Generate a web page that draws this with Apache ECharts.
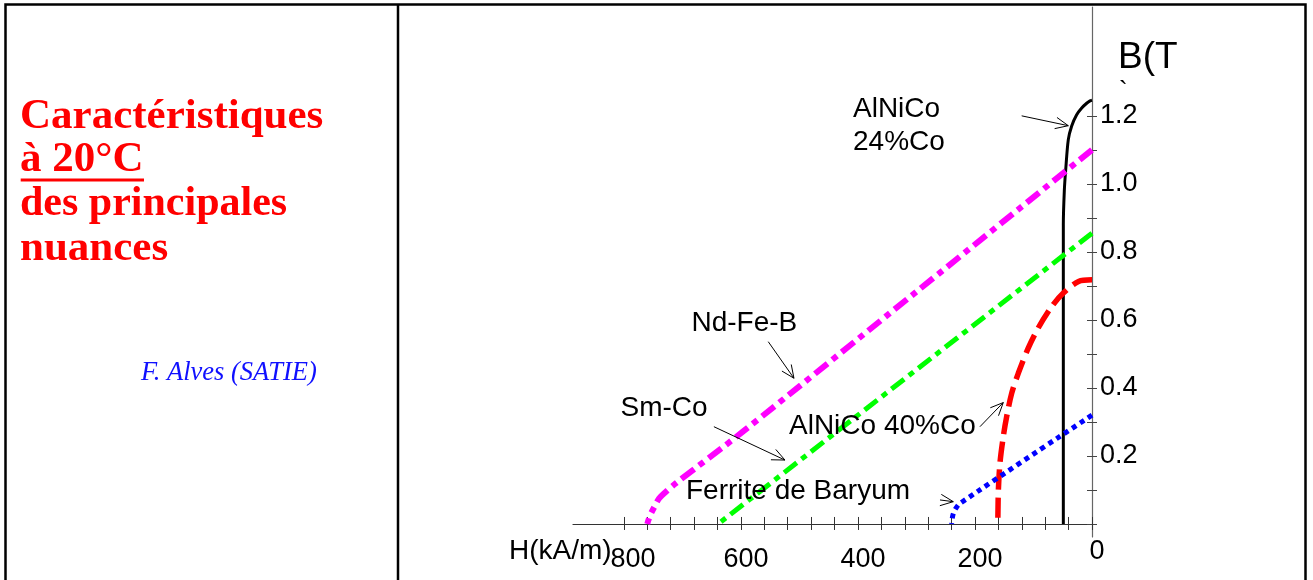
<!DOCTYPE html>
<html>
<head>
<meta charset="utf-8">
<script src="https://cdn.jsdelivr.net/npm/echarts@6/dist/echarts.min.js"></script>
<style>
html,body{margin:0;padding:0;background:#fff;}
#c{width:1313px;height:580px;}
</style>
</head>
<body>
<div id="c"></div>
<script>
// ---- data (H in kA/m, B in T) ----
const xTickValues  = [0,40,80,120,160,200,240,280,320,360,400,440,480,520,560,600,640,680,720,760,800];
const xLabelValues = [0,200,400,600,800];
const yTickValues  = [0,0.1,0.2,0.3,0.4,0.5,0.6,0.7,0.8,0.9,1.0,1.1,1.2];
const yLabelValues = [0.2,0.4,0.6,0.8,1.0,1.2];

const alnico24 = [[49,0],[49,0.88],[47.3,0.98],[45,1.04],[40.5,1.13],[34.7,1.17],[26.2,1.203],[17.6,1.223],[9.1,1.237],[3.4,1.244],[0,1.246]];
const ndfeb    = [[0,1.1],[300,0.683],[600,0.267],[711,0.12],[730,0.092],[740,0.075],[748,0.05],[754,0.03],[758,0.012],[760,0]];
const smco     = [[0,0.855],[320,0.427],[639,0]];
const alnico40 = [[0,0.718],[23,0.713],[49,0.679],[69,0.639],[92,0.576],[109,0.517],[126,0.443],[137.3,0.384],[145.8,0.316],[151.6,0.257],[157.3,0.179],[160,0.1],[160.6,0.05],[161,0]];
const ferrite  = [[0,0.32],[226,0.06],[233,0.045],[237,0.031],[239,0.015],[240,0]];

// annotation arrows (from -> to) in data coordinates
const arrowFrom = [[120.2,1.2],[553.3,0.536],[646.2,0.286],[191.5,0.286],[259.8,0.0706]];
const arrowTo   = [[40.5,1.171],[509.4,0.4285],[524.8,0.188],[151.6,0.357],[237.1,0.0656]];

const SANS = '"Liberation Sans", Arial, sans-serif';
const SERIF = '"Liberation Serif", "Times New Roman", serif';

const chart = echarts.init(document.getElementById('c'), null, {renderer:'canvas'});

const xLabelCfg = {
  customValues: xLabelValues,
  margin: 23,
  verticalAlign: 'middle',
  formatter: function (v) { return v === 0 ? '{z|0}' : (v === 800 ? '{b|800}' : '{a|' + v + '}'); },
  rich: {
    a: {fontSize: 27, fontFamily: SANS, color: '#000', padding: [0,0,0,10]},
    b: {fontSize: 27, fontFamily: SANS, color: '#000', padding: [0,0,0,18]},
    z: {fontSize: 27, fontFamily: SANS, color: '#000', padding: [0,0,17,10]}
  }
};

const option = {
  animation: false,
  backgroundColor: '#fff',
  grid: {left: 573, right: 221, top: 7, bottom: 43.1, containLabel: false},
  xAxis: [{
    type: 'value', min: 0, max: 887, inverse: true, position: 'bottom',
    axisLine: {show: true, onZero: true, lineStyle: {color: '#333', width: 1.2}},
    axisTick: {show: true, length: 6, inside: false, customValues: xTickValues, lineStyle: {color: '#333', width: 1}},
    axisLabel: xLabelCfg,
    splitLine: {show: false}
  }, {
    type: 'value', min: 0, max: 887, inverse: true, position: 'bottom',
    axisLine: {show: false, onZero: true},
    axisTick: {show: true, length: 7, inside: true, customValues: xTickValues, lineStyle: {color: '#333', width: 1}},
    axisLabel: {show: false},
    splitLine: {show: false}
  }],
  yAxis: [{
    type: 'value', min: -0.038, max: 1.52, position: 'right',
    axisLine: {show: true, onZero: false, lineStyle: {color: '#666', width: 1.2}},
    axisTick: {show: true, length: 5, inside: false, customValues: yTickValues, lineStyle: {color: '#444', width: 1}},
    axisLabel: {customValues: yLabelValues, margin: 8, fontSize: 27, fontFamily: SANS, color: '#000',
      formatter: function (v) { return v.toFixed(1); }},
    splitLine: {show: false}
  }, {
    type: 'value', min: -0.038, max: 1.52, position: 'right',
    axisLine: {show: false, onZero: false},
    axisTick: {show: true, length: 5, inside: true, customValues: yTickValues, lineStyle: {color: '#444', width: 1}},
    axisLabel: {show: false},
    splitLine: {show: false}
  }],
  series: [
    {name: 'AlNiCo 24%Co', type: 'line', data: alnico24, showSymbol: false, smooth: 0.3,
      lineStyle: {color: '#000', width: 3}},
    {name: 'Nd-Fe-B', type: 'line', data: ndfeb, showSymbol: false, smooth: 0.3,
      lineStyle: {color: '#FF00FF', width: 6, type: [16, 6, 6, 6]}},
    {name: 'Sm-Co', type: 'line', data: smco, showSymbol: false,
      lineStyle: {color: '#00FF00', width: 5, type: [16, 6, 6, 6]}},
    {name: 'AlNiCo 40%Co', type: 'line', data: alnico40, showSymbol: false, smooth: 0.3,
      lineStyle: {color: '#FF0000', width: 5.5, type: [20, 8]}},
    {name: 'Ferrite de Baryum', type: 'line', data: ferrite, showSymbol: false, smooth: 0.3,
      lineStyle: {color: '#0000FF', width: 5, type: [5, 4.5]}}
  ]
};
chart.setOption(option);

function txt(text, x, y, size, family, color, extra) {
  return {
    type: 'text', x: x, y: y, silent: true, z: 10,
    style: Object.assign({text: text, fontSize: size, fontFamily: family, fill: color, align: 'left', verticalAlign: 'middle'}, extra || {})
  };
}

const g = [];
// frame
g.push({type: 'rect', silent: true, z: 5, shape: {x: 5.5, y: 4.5, width: 1300, height: 620},
  style: {fill: null, stroke: '#000', lineWidth: 2.5}});
g.push({type: 'line', silent: true, z: 5, shape: {x1: 398, y1: 4.5, x2: 398, y2: 600},
  style: {stroke: '#000', lineWidth: 2.5}});
// left panel
g.push(txt('Caractéristiques', 20, 117, 43, SERIF, '#FF0000', {fontWeight: 'bold'}));
g.push(txt('à 20°C', 20, 160, 43, SERIF, '#FF0000', {fontWeight: 'bold'}));
g.push({type: 'rect', silent: true, z: 10, shape: {x: 20.7, y: 178.5, width: 123.3, height: 3}, style: {fill: '#FF0000'}});
g.push(txt('des principales', 20, 204.5, 42, SERIF, '#FF0000', {fontWeight: 'bold'}));
g.push(txt('nuances', 20, 248.5, 43, SERIF, '#FF0000', {fontWeight: 'bold'}));
g.push(txt('F. Alves (SATIE)', 141, 373, 26.5, SERIF, '#1010FF', {fontStyle: 'italic'}));
// axis titles
g.push(txt('B(T', 1118, 58, 37, SANS, '#000'));
g.push(txt('`', 1119, 92, 26, SANS, '#000'));
g.push(txt('H(kA/m)', 509, 551, 28, SANS, '#000'));
// curve labels
g.push(txt('AlNiCo', 853, 109, 28, SANS, '#000'));
g.push(txt('24%Co', 853, 142.5, 28, SANS, '#000'));
g.push(txt('Nd-Fe-B', 691.5, 323, 28, SANS, '#000'));
g.push(txt('Sm-Co', 620.5, 408, 28, SANS, '#000'));
g.push(txt('AlNiCo 40%Co', 789, 426.5, 28, SANS, '#000'));
g.push(txt('Ferrite de Baryum', 686, 491.5, 28, SANS, '#000'));

// arrows
for (let i = 0; i < arrowFrom.length; i++) {
  const p0 = chart.convertToPixel({xAxisIndex: 0, yAxisIndex: 0}, arrowFrom[i]);
  const p1 = chart.convertToPixel({xAxisIndex: 0, yAxisIndex: 0}, arrowTo[i]);
  const ang = Math.atan2(p0[1] - p1[1], p0[0] - p1[0]);
  const L = 14, a = 0.42;
  const h1 = [p1[0] + L * Math.cos(ang + a), p1[1] + L * Math.sin(ang + a)];
  const h2 = [p1[0] + L * Math.cos(ang - a), p1[1] + L * Math.sin(ang - a)];
  g.push({type: 'polyline', silent: true, z: 10, shape: {points: [p0, p1]}, style: {stroke: '#000', lineWidth: 1, fill: null}});
  g.push({type: 'polyline', silent: true, z: 10, shape: {points: [h1, p1, h2]}, style: {stroke: '#000', lineWidth: 1, fill: null}});
}
chart.setOption({graphic: {elements: g}});
</script>
</body>
</html>
